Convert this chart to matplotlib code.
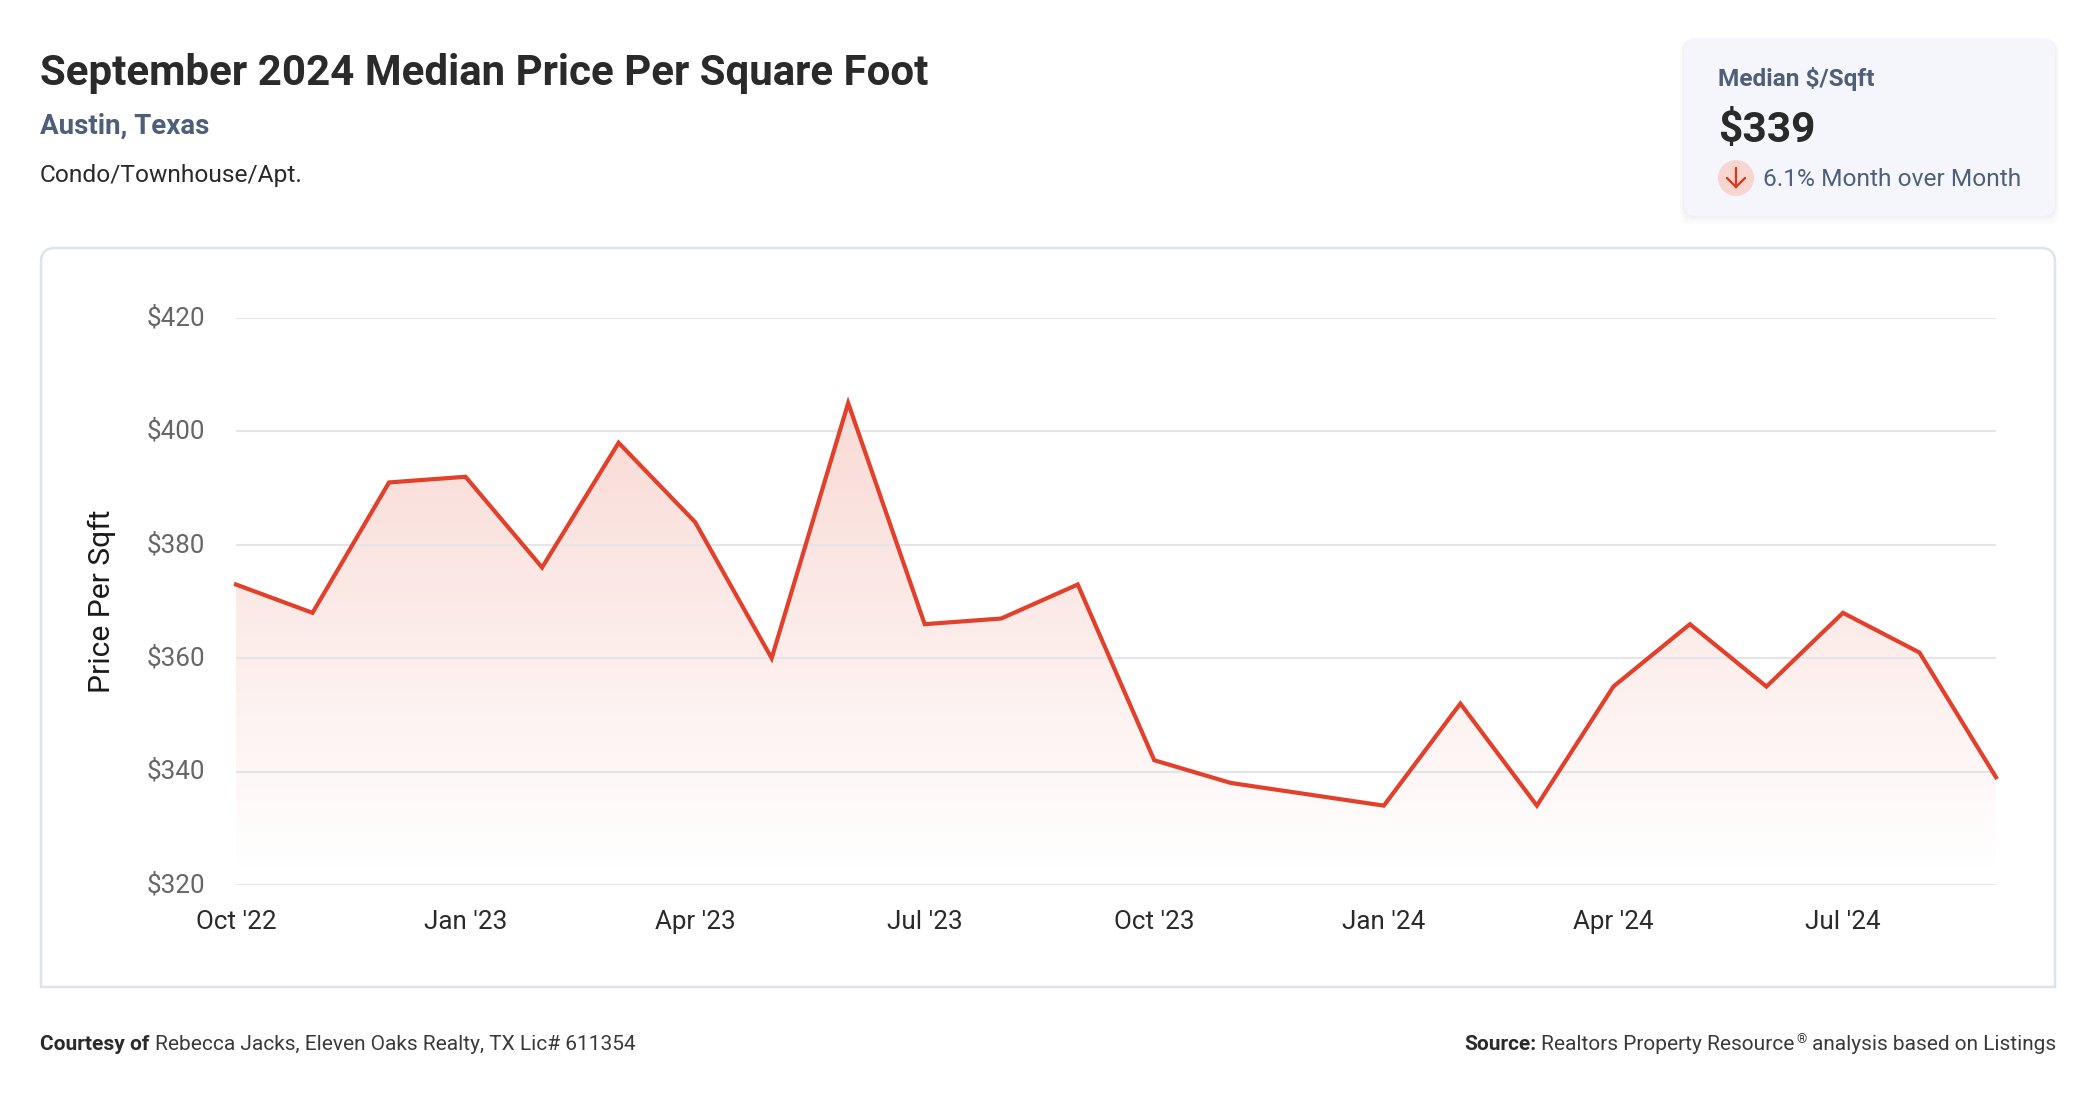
## Austin price per sqft card, drawn in pixel layout of the original page
import matplotlib.pyplot as plt
from matplotlib.colors import LinearSegmentedColormap
from matplotlib.patches import Circle, FancyBboxPatch, PathPatch
from matplotlib.path import Path
from matplotlib.transforms import ScaledTranslation
import numpy as np

plt.rcParams['font.family'] = ['Roboto', 'DejaVu Sans']

months = np.arange(24)
price = [373, 368, 391, 392, 376, 398, 384, 360, 405, 366, 367, 373,
         342, 338, 336, 334, 352, 334, 355, 366, 355, 368, 361, 339]
y_ticks = [320, 340, 360, 380, 400, 420]
y_labels = ['$320', '$340', '$360', '$380', '$400', '$420']
x_ticks = [0, 3, 6, 9, 12, 15, 18, 21]
x_labels = ["Oct '22", "Jan '23", "Apr '23", "Jul '23",
            "Oct '23", "Jan '24", "Apr '24", "Jul '24"]

W, H = 2096, 1100
DARK = '#2a2a2a'
SLATE = '#4f5f7a'
RED = '#e2402a'


def px(size):
    # css pixels to points at dpi 100
    return size * 0.72


def put(x, y, s, size, color=DARK, **kw):
    page.text(x, y, s, fontsize=px(size), color=color, va='baseline', **kw)


fig = plt.figure(figsize=(W / 100, H / 100), dpi=100, facecolor='white')

# page layer, y runs downwards like the screenshot
page = fig.add_axes([0, 0, 1, 1], zorder=0)
page.set_xlim(0, W)
page.set_ylim(H, 0)
page.axis('off')

put(40, 85, 'September 2024 Median Price Per Square Foot', 42, weight='bold')
put(40, 134, 'Austin, Texas', 27.8, color=SLATE, weight='bold')
put(40, 182, 'Condo/Townhouse/Apt.', 24.5)

# chart panel, only the top corners are round
x0, x1, y0, y1, r = 41, 2055, 248, 987, 14
panel = Path([(x0, y1), (x0, y0 + r), (x0, y0), (x0 + r, y0), (x1 - r, y0), (x1, y0), (x1, y0 + r),
              (x1, y1), (x0, y1)],
             [Path.MOVETO, Path.LINETO, Path.CURVE3, Path.CURVE3, Path.LINETO, Path.CURVE3, Path.CURVE3,
              Path.LINETO, Path.CLOSEPOLY])
page.add_patch(PathPatch(panel, fc='white', ec='#dde3ee', lw=1.8))

# summary card with soft shadow
for grow, tone in zip([8, 5, 3, 1], ['#fbfbfb', '#f8f8f9', '#f3f3f5', '#eeeff1']):
    page.add_patch(FancyBboxPatch((1684 - grow / 2, 40), 371 + grow, 176 + grow,
                                  boxstyle='round,pad=0,rounding_size=12', fc=tone, ec='none'))
page.add_patch(FancyBboxPatch((1684, 38), 371, 178, boxstyle='round,pad=0,rounding_size=12',
                              fc='#f5f6fb', ec='none'))
put(1718, 86, 'Median $/Sqft', 24.4, color=SLATE, weight='bold')
put(1718, 142, '$339', 42.5, weight='bold')
put(1763, 186, '6.1% Month over Month', 24.5, color=SLATE)
page.add_patch(Circle((1736, 178), 18, fc='#f8d6cf', ec='none'))
page.plot([1736, 1736], [168, 187], color='#d23c25', lw=1.7, solid_capstyle='round')
page.plot([1727, 1736, 1745], [178, 187, 178], color='#d23c25', lw=1.7,
          solid_capstyle='round', solid_joinstyle='miter')

# footer
put(40, 1050, 'Courtesy of', 20.9, weight='bold')
put(155, 1050, 'Rebecca Jacks, Eleven Oaks Realty, TX Lic# 611354', 20.9, color='#3a3a3a')
put(1464, 1050, 'Source:', 20.9, weight='bold')
put(1541, 1050, 'Realtors Property Resource', 20.9, color='#3a3a3a')
put(1796, 1043, '®', 13, color='#3a3a3a')
put(2056, 1050, 'analysis based on Listings', 20.9, color='#3a3a3a', ha='right')

# chart itself
left, right, top, bottom = 236, 1996, 318, 885
ax = fig.add_axes([left / W, 1 - bottom / H, (right - left) / W, (bottom - top) / H], zorder=1)
ax.patch.set_alpha(0)
ax.set_xlim(0, 23)
ax.set_ylim(320, 420)

fade = LinearSegmentedColormap.from_list('fade', ['#ffffff', '#f9dad5'])
img = ax.imshow(np.linspace(0, 1, 256).reshape(-1, 1), cmap=fade, origin='lower',
                extent=(0, 23, 323, 405), aspect='auto', zorder=1)
verts = [(0, 320)] + list(zip(months, price)) + [(23, 320), (0, 320)]
img.set_clip_path(PathPatch(Path(verts), transform=ax.transData))

ax.plot(months, price, color=RED, lw=3.0, solid_joinstyle='miter', zorder=3, clip_on=False)

ax.set_yticks(y_ticks, y_labels, fontsize=px(26), color='#666666')
ax.set_xticks(x_ticks, x_labels, fontsize=px(26), color=DARK)
ax.tick_params(length=0)
ax.tick_params(axis='y', pad=22)
ax.tick_params(axis='x', pad=18)
nudge = ScaledTranslation(0, 2.5 / 100, fig.dpi_scale_trans)
for lab in ax.get_yticklabels():
    lab.set_transform(lab.get_transform() + nudge)
ax.grid(axis='y', color='#e4e5e8', lw=1.5, zorder=2)
for side in ax.spines.values():
    side.set_visible(False)
ax.set_ylabel('Price Per Sqft', fontsize=px(30), color='#1a1a1a', labelpad=22)

fig.savefig('out.png', dpi=100)
